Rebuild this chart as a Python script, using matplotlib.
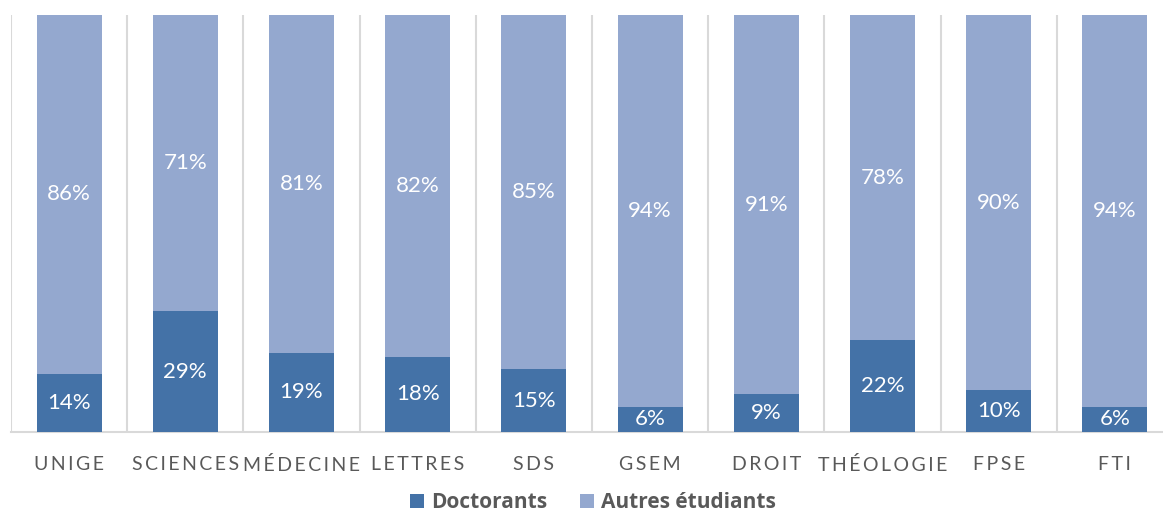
import numpy as np
import matplotlib.pyplot as plt

categories = ["UNIGE", "SCIENCES", "MÉDECINE", "LETTRES", "SDS",
              "GSEM", "DROIT", "THÉOLOGIE", "FPSE", "FTI"]
doctorants = [14, 29, 19, 18, 15, 6, 9, 22, 10, 6]
autres = [86, 71, 81, 82, 85, 94, 91, 78, 90, 94]

c_doc = "#4472A7"
c_aut = "#94A8CF"
grey = "#595959"

plt.rcParams['font.family'] = ['Lato', 'DejaVu Sans']

fig = plt.figure(figsize=(11.63, 5.15), dpi=100)
# axes extends a little past the right edge, as in the original
ax = fig.add_axes([11 / 1163, 83 / 515, 1162 / 1163, 417 / 515])

x = np.arange(len(categories))
w = 0.56
b1 = ax.bar(x, doctorants, w, color=c_doc, label="Doctorants", zorder=3)
b2 = ax.bar(x, autres, w, bottom=doctorants, color=c_aut, label="Autres étudiants", zorder=3)

for i in range(len(categories)):
    ax.text(x[i], doctorants[i] / 2, f"{doctorants[i]}%", ha="center", va="center",
            color="white", fontsize=16, zorder=4)
    ax.text(x[i], doctorants[i] + autres[i] / 2, f"{autres[i]}%", ha="center", va="center",
            color="white", fontsize=16, zorder=4)

ax.set_xlim(-0.5, len(categories) - 0.5)
ax.set_ylim(0, 100)
ax.set_xticks(x)
ax.set_xticklabels(["\u2009".join(c) for c in categories], color=grey, fontsize=14)
ax.tick_params(axis="x", length=0, pad=17)
ax.set_yticks([])

# vertical separators between categories
for g in np.arange(-0.5, len(categories), 1.0):
    ax.axvline(g, color="#D9D9D9", lw=1.5, zorder=1)

for s in ["top", "right", "left"]:
    ax.spines[s].set_visible(False)
ax.spines["bottom"].set_color("#D9D9D9")
ax.spines["bottom"].set_linewidth(1.5)

leg = fig.legend(handles=[b1, b2], loc="center", bbox_to_anchor=(0.51, 1 - 503 / 515),
                 ncol=2, frameon=False, handlelength=0.65, handleheight=0.65,
                 handletextpad=0.35, columnspacing=1.6, borderpad=0.2,
                 prop={"family": ["Open Sans", "DejaVu Sans"], "size": 15, "weight": "bold"})
for t in leg.get_texts():
    t.set_color(grey)

fig.savefig("out.png", dpi=100)
